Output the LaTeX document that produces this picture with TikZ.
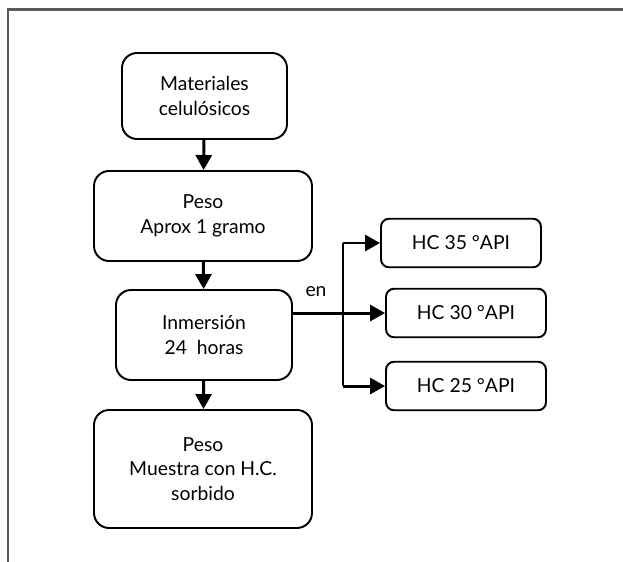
\documentclass[tikz,border=0pt]{standalone}
\usepackage{fontspec}
\setmainfont{Lato}
\usetikzlibrary{arrows.meta}

\begin{document}
\begin{tikzpicture}[x=0.02cm,y=-0.02cm,
	caja/.style={draw=black,line width=1.1pt,rounded corners=0.3cm,align=center,inner sep=0pt,font=\fontsize{11}{14}\selectfont},
	cajahc/.style={caja,rounded corners=0.16cm,minimum width=3.2cm,minimum height=0.97cm},
	flecha/.style={line width=1.7pt,-{Triangle[length=0.3cm,width=0.32cm]}}]
	\useasboundingbox (0,0) rectangle (623,562);
	% marco
	\draw[line width=1.2pt,black!65] (623,9.5) -- (8,9.5) -- (8,562);

	% columna principal
	\node[caja,minimum width=3.3cm,minimum height=1.72cm] (materiales) at (204.5,96) {Materiales\\celulósicos};
	\node[caja,minimum width=4.36cm,minimum height=1.8cm] (peso) at (203,216) {Peso\\Aprox 1 gramo};
	\node[caja,minimum width=3.52cm,minimum height=1.8cm] (inmersion) at (204,335) {Inmersión\\24~~horas};
	\node[caja,minimum width=4.36cm,minimum height=2.36cm] (muestra) at (203,469) {Peso\\Muestra con H.C.\\sorbido};

	% hidrocarburos
	\node[cajahc] (hc35) at (461,243) {HC 35 °API};
	\node[cajahc] (hc30) at (466,313) {HC 30 °API};
	\node[cajahc] (hc25) at (466,386) {HC 25 °API};

	\node[font=\fontsize{11}{14}\selectfont] (en) at (316,292) {en};

	\coordinate (llavea) at (343,243);
	\coordinate (llaveb) at (343,386);

	\draw[flecha] (materiales) -- (peso);
	\draw[flecha] (peso) -- (inmersion);
	\draw[flecha] (inmersion) -- (muestra);

	\draw[line width=1.1pt] (llavea) -- (llaveb);
	\draw[flecha] (inmersion.east |- hc30) -- (hc30);
	\draw[flecha] (llavea) -- (hc35);
	\draw[flecha] (llaveb) -- (hc25);
\end{tikzpicture}
\end{document}
